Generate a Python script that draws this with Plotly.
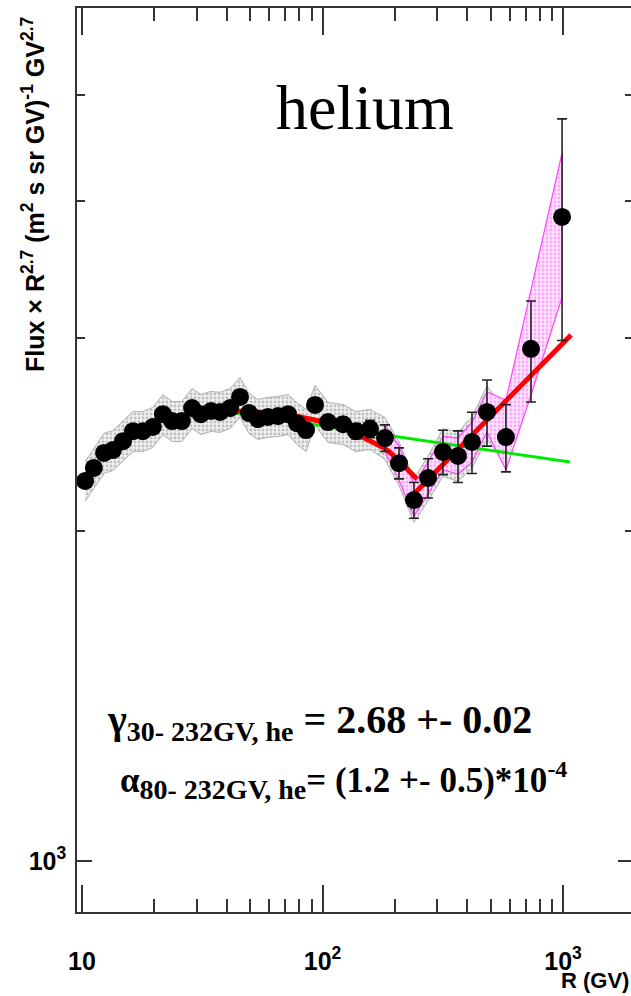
import plotly.graph_objects as go
import math

# ---------------- data ----------------
R = [10.3, 11.2, 12.35, 13.45, 14.8, 16.3, 17.9, 19.7, 21.7, 23.7,
     26.0, 28.7, 31.2, 34.4, 37.5, 41.3, 45.4, 49.5, 53.9, 59.3,
     65.3, 71.9, 78.3, 85.4, 93.1, 105.4, 121.7, 137.8, 157.6, 181.9,
     208, 240, 274.7, 316.9, 365.9, 418.3, 483, 579, 736, 991]
flux = [2222, 2284, 2357, 2371, 2416, 2467, 2467, 2489, 2557, 2520,
        2520, 2590, 2557, 2574, 2569, 2590, 2651, 2563, 2531, 2542,
        2547, 2557, 2509, 2473, 2607, 2515, 2504, 2467, 2479, 2432,
        2307, 2135, 2236, 2362, 2342, 2412, 2569, 2437, 2933, 3870]
stat_err = [10, 10, 10, 10, 10, 10, 10, 10, 10, 10,
            10, 10, 10, 10, 10, 10, 10, 12, 12, 12,
            14, 14, 15, 15, 15, 30, 35, 40, 45, 68,
            75, 80, 92, 110, 127, 155, 178, 172, 310, 885]
# relative systematic error (gray band), first 38 points
syst_rel = [0.042, 0.042, 0.042, 0.042, 0.042, 0.042, 0.042, 0.042, 0.042, 0.042,
            0.042, 0.042, 0.042, 0.042, 0.042, 0.042, 0.042, 0.042, 0.042, 0.042,
            0.042, 0.042, 0.044, 0.044, 0.042, 0.042, 0.042, 0.042, 0.042, 0.044,
            0.046, 0.046, 0.047, 0.050, 0.052, 0.054, 0.056, 0.056]

# magenta band (high rigidity)
pink_R = [181.9, 208, 240, 274.7, 316.9, 365.9, 418.3, 483, 579, 736, 991]
pink_up = [2499, 2391, 2208, 2312, 2442, 2432, 2515, 2679, 2634, 3319, 4426]
pink_lo = [2362, 2226, 2064, 2162, 2274, 2255, 2312, 2463, 2274, 2662, 3270]

# fits
green_R = [30, 1070]
green_F = [2594, 2312]
red1_R = [42, 53.9, 80.6, 121.7, 146, 185.5, 210, 247]
red1_F = [2574, 2569, 2542, 2484, 2437, 2371, 2312, 2231]
red2_R = [242, 1080]
red2_F = [2167, 3019]

x_major = [10, 100, 1000]
x_major_text = ["10", "10<sup>2</sup>", "10<sup>3</sup>"]
x_minor = [20, 30, 40, 50, 60, 70, 80, 90, 200, 300, 400, 500, 600, 700, 800, 900]
y_major = [1000]
y_major_text = ["10<sup>3</sup>"]
y_minor = [2000, 3000, 4000, 5000]

# ---------------- layout geometry ----------------
W, H = 631, 996
ML, MR, MT, MB = 77, 0, 8, 84
PW, PH = W - ML - MR, H - MT - MB


def px(x):
    return (x - ML) / PW


def py(y):
    return (H - MB - y) / PH


fig = go.Figure()

# gray systematic band
nb = len(syst_rel)
gb_x = R[:nb] + R[:nb][::-1]
gb_y = [f * (1 + s) for f, s in zip(flux[:nb], syst_rel)] + \
       [f * (1 - s) for f, s in zip(flux[:nb], syst_rel)][::-1]
fig.add_trace(go.Scatter(
    x=gb_x, y=gb_y, mode="lines", fill="toself",
    line=dict(color="#b0b0b0", width=1),
    fillcolor="rgba(232,232,232,1)",
    fillpattern=dict(shape=".", fgcolor="#8f8f8f", bgcolor="#f0f0f0", size=4, solidity=0.4),
    hoverinfo="skip", showlegend=False))

# magenta band
fig.add_trace(go.Scatter(
    x=pink_R + pink_R[::-1], y=pink_up + pink_lo[::-1], mode="lines", fill="toself",
    line=dict(color="#ff44ff", width=1.2),
    fillcolor="rgba(255,200,255,1)",
    fillpattern=dict(shape=".", fgcolor="#ff66ff", bgcolor="#ffe6ff", size=4, solidity=0.4),
    hoverinfo="skip", showlegend=False))

# green fit
fig.add_trace(go.Scatter(x=green_R, y=green_F, mode="lines",
                         line=dict(color="rgb(0,235,0)", width=3),
                         hoverinfo="skip", showlegend=False))
# red fits
fig.add_trace(go.Scatter(x=red1_R, y=red1_F, mode="lines",
                         line=dict(color="#ff0000", width=5, shape="spline"),
                         hoverinfo="skip", showlegend=False))
fig.add_trace(go.Scatter(x=red2_R, y=red2_F, mode="lines",
                         line=dict(color="#ff0000", width=5),
                         hoverinfo="skip", showlegend=False))

# data points
fig.add_trace(go.Scatter(
    x=R, y=flux, mode="markers",
    marker=dict(color="black", size=18, symbol="circle"),
    error_y=dict(type="data", array=stat_err, visible=True,
                 color="#222222", thickness=1.6, width=5),
    showlegend=False))

# dummy trace for right-side ticks
fig.add_trace(go.Scatter(x=[None], y=[None], yaxis="y2", showlegend=False, hoverinfo="skip"))

axis_col = "#333333"
tickfont = dict(family="Liberation Sans, Arial, sans-serif", size=25, color="black", weight="bold")

fig.update_layout(
    width=W, height=H, autosize=False,
    margin=dict(l=ML, r=MR, t=MT, b=MB, pad=0),
    paper_bgcolor="white", plot_bgcolor="white",
    showlegend=False,
    xaxis=dict(
        type="log", range=[0.9792, 3.2827],
        showline=True, linecolor=axis_col, linewidth=1.6, mirror="ticks",
        ticks="inside", ticklen=27, tickwidth=1.5, tickcolor=axis_col,
        tickmode="array", tickvals=x_major, ticktext=x_major_text,
        tickfont=tickfont, ticklabelstandoff=26,
        minor=dict(tickmode="array", tickvals=x_minor, ticks="inside",
                   ticklen=13, tickwidth=1.5, tickcolor=axis_col),
        showgrid=False, zeroline=False),
    yaxis=dict(
        type="log", range=[math.log10(898.5), math.log10(6002)],
        showline=True, linecolor=axis_col, linewidth=1.6, mirror=False,
        ticks="inside", ticklen=15, tickwidth=1.5, tickcolor=axis_col,
        tickmode="array", tickvals=y_major, ticktext=y_major_text,
        tickfont=tickfont, ticklabelstandoff=4,
        minor=dict(tickmode="array", tickvals=y_minor, ticks="inside",
                   ticklen=8, tickwidth=1.5, tickcolor=axis_col),
        showgrid=False, zeroline=False),
    yaxis2=dict(
        type="log", range=[math.log10(898.5), math.log10(6002)],
        overlaying="y", side="right", anchor="x",
        showline=False, showticklabels=False,
        ticks="inside", ticklen=13, tickwidth=1.5, tickcolor=axis_col,
        tickmode="array", tickvals=y_major,
        minor=dict(tickmode="array", tickvals=y_minor, ticks="inside",
                   ticklen=6, tickwidth=1.5, tickcolor=axis_col),
        showgrid=False, zeroline=False),
)

sans_b = dict(family="Liberation Sans, Arial, sans-serif", color="black", weight="bold")
serif = "Liberation Serif, Times New Roman, serif"

annotations = [
    # y axis title
    dict(text="Flux \u00d7 R<sup>2.7</sup> (m<sup>2</sup> s sr GV)<sup>-1</sup> GV<sup>2.7</sup>",
         x=px(33), y=py(195), xref="paper", yref="paper", textangle=-90,
         showarrow=False, xanchor="center", yanchor="middle",
         font=dict(size=25, **sans_b)),
    # x axis title
    dict(text="R (GV)", x=1.0, y=py(980), xref="paper", yref="paper",
         showarrow=False, xanchor="right", yanchor="middle",
         font=dict(size=22, **sans_b)),
    # helium
    dict(text="helium", x=px(365), y=py(108), xref="paper", yref="paper",
         showarrow=False, xanchor="center", yanchor="middle",
         font=dict(family=serif, size=64, color="black")),
    # gamma
    dict(text="\u03b3<sub><span style='font-size:28px'>30- 232GV, he</span></sub> = 2.68 +- 0.02",
         x=px(105), y=py(722), xref="paper", yref="paper",
         showarrow=False, xanchor="left", yanchor="middle",
         font=dict(family=serif, size=40, color="black", weight="bold")),
    # alpha
    dict(text="\u03b1<sub><span style='font-size:28px'>80- 232GV, he</span></sub>= (1.2 +- 0.5)*10<sup><span style='font-size:24px'>-4</span></sup>",
         x=px(118), y=py(780), xref="paper", yref="paper",
         showarrow=False, xanchor="left", yanchor="middle",
         font=dict(family=serif, size=35, color="black", weight="bold")),
]
fig.update_layout(annotations=annotations)

fig.write_html("out.html")
